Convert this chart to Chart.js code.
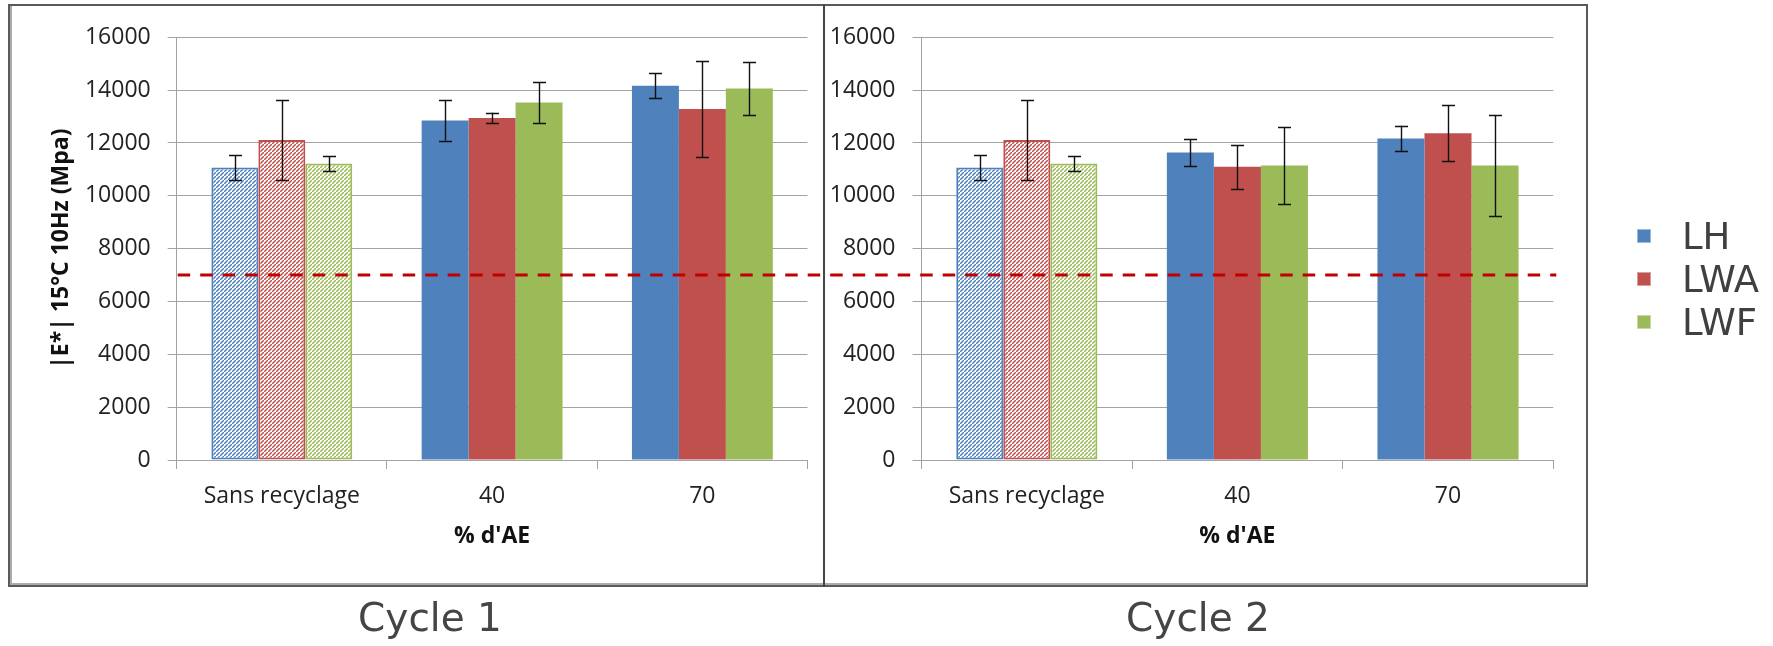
<!DOCTYPE html>
<html>
<head>
<meta charset="utf-8">
<script src="https://cdn.jsdelivr.net/npm/chart.js@4.4.1/dist/chart.umd.min.js"></script>
<style>
  html, body { margin: 0; padding: 0; background: #fff; }
  body { width: 1773px; height: 646px; position: relative; overflow: hidden; }
  canvas { position: absolute; left: 0; top: 0; }
  .frame { position: absolute; left: 8px; top: 4px; width: 1576px; height: 579px;
           border: 2px solid #5a5a5a; box-shadow: inset 2px -2px 0 #ababab; }
  .divider { position: absolute; left: 823px; top: 4px; width: 2px; height: 583px; background: #454545; }
  .cycle { position: absolute; top: 598px; font-family: 'DejaVu Sans'; font-size: 39px; line-height: 39px;
           color: #454545; transform: translateX(-50%); white-space: nowrap; }
  .legend-item { position: absolute; left: 1637px; height: 37px; }
  .legend-item .sw { position: absolute; left: 0; width: 14px; height: 14px; top: 11px; box-sizing: border-box; }
  .legend-item .tx { position: absolute; left: 45px; top: 0; font-family: 'DejaVu Sans'; font-size: 37px;
                     line-height: 37px; color: #404040; white-space: nowrap; }
</style>
</head>
<body>
<div class="frame"></div>
<div class="divider"></div>
<canvas id="cycle1" width="1773" height="646"></canvas>
<canvas id="cycle2" width="1773" height="646"></canvas>
<div class="cycle" style="left:430px">Cycle 1</div>
<div class="cycle" style="left:1198px">Cycle 2</div>
<div id="legend"></div>
<script>
// ---- data ----
const categories = ['Sans recyclage', '40', '70'];
const seriesNames = ['LH', 'LWA', 'LWF'];
const seriesColors = ['#4F81BD', '#C0504D', '#9BBB59'];

// Cycle 1 : |E*| (MPa) and standard deviation
const cycle1LH = [11070, 12850, 14170];
const cycle1LWA = [12110, 12950, 13290];
const cycle1LWF = [11220, 13530, 14060];
const cycle1LHErr = [480, 760, 480];
const cycle1LWAErr = [1500, 200, 1820];
const cycle1LWFErr = [270, 780, 990];

// Cycle 2
const cycle2LH = [11070, 11640, 12170];
const cycle2LWA = [12110, 11100, 12370];
const cycle2LWF = [11220, 11150, 11150];
const cycle2LHErr = [480, 510, 490];
const cycle2LWAErr = [1500, 830, 1070];
const cycle2LWFErr = [270, 1460, 1900];

const yMin = 0;
const yMax = 16000;
const yStep = 2000;
const threshold = 7000;

const yTitle = '|E*| 15°C 10Hz (Mpa)';
const xTitle = "% d'AE";

// ---- helpers ----
Chart.defaults.font.family = "'Open Sans', 'Noto Sans', sans-serif";
Chart.defaults.color = '#222222';

function hatchPattern(ctx, color) {
  const s = 4;
  const tile = document.createElement('canvas');
  tile.width = s; tile.height = s;
  const g = tile.getContext('2d');
  g.fillStyle = '#ffffff';
  g.fillRect(0, 0, s, s);
  g.strokeStyle = color;
  g.lineWidth = 1.5;
  g.beginPath();
  g.moveTo(-1, s + 1); g.lineTo(s + 1, -1);
  g.moveTo(-1 - s, s + 1 - s); g.lineTo(s + 1 - s, -1 - s);
  g.moveTo(-1 + s, s + 1 + s); g.lineTo(s + 1 + s, -1 + s);
  g.stroke();
  return ctx.createPattern(tile, 'repeat');
}

// error bars drawn on top of each bar
const errorBars = {
  id: 'errorBars',
  afterDatasetsDraw(chart) {
    const ctx = chart.ctx;
    const y = chart.scales.y;
    ctx.save();
    ctx.strokeStyle = '#111';
    ctx.lineWidth = 1.4;
    chart.data.datasets.forEach((ds, di) => {
      const meta = chart.getDatasetMeta(di);
      meta.data.forEach((bar, i) => {
        const v = ds.data[i], e = ds.errors[i];
        const top = y.getPixelForValue(v + e);
        const bot = y.getPixelForValue(v - e);
        const x = Math.round(bar.x) + 0.5;
        ctx.beginPath();
        ctx.moveTo(x, top); ctx.lineTo(x, bot);
        ctx.moveTo(x - 6.5, Math.round(top) + 0.5); ctx.lineTo(x + 6.5, Math.round(top) + 0.5);
        ctx.moveTo(x - 6.5, Math.round(bot) + 0.5); ctx.lineTo(x + 6.5, Math.round(bot) + 0.5);
        ctx.stroke();
      });
    });
    ctx.restore();
  }
};

function buildDatasets(canvas, values, errors) {
  const ctx = canvas.getContext('2d');
  return seriesNames.map((name, k) => {
    const pat = hatchPattern(ctx, seriesColors[k]);
    return {
      label: name,
      data: values[k],
      errors: errors[k],
      backgroundColor: c => (c.dataIndex === 0 ? pat : seriesColors[k]),
      borderColor: seriesColors[k],
      borderWidth: c => (c.dataIndex === 0 ? 2 : 0),
      borderSkipped: false,
      categoryPercentage: 0.67,
      barPercentage: 1.0
    };
  });
}

function buildOptions(pad, withYTitle, yWidth) {
  return {
    responsive: false,
    animation: false,
    devicePixelRatio: 1,
    layout: { padding: pad },
    plugins: { legend: { display: false }, tooltip: { enabled: false } },
    scales: {
      x: {
        type: 'category',
        offset: true,
        grid: { offset: true, drawOnChartArea: false, drawTicks: true, tickLength: 9, color: '#a3a3a3', lineWidth: 1 },
        border: { color: '#a3a3a3', width: 1 },
        ticks: { padding: 14, font: { size: 23 }, maxRotation: 0, autoSkip: false },
        title: { display: true, text: xTitle, color: '#111', font: { size: 23, weight: 'bold' }, padding: { top: 0, bottom: 10 } },
        afterFit: s => { s.height = 100; }
      },
      y: {
        min: yMin,
        max: yMax,
        grid: { color: '#a3a3a3', lineWidth: 1, tickLength: 9 },
        border: { color: '#a3a3a3', width: 1 },
        ticks: { stepSize: yStep, padding: 17, font: { size: 23 }, callback: v => String(v) },
        title: { display: withYTitle, text: yTitle, color: '#111', font: { size: 23, weight: 'bold' }, padding: { top: 21, bottom: 0 } },
        afterFit: s => { s.width = yWidth; }
      }
    }
  };
}

// ---- Cycle 1 ----
const c1 = document.getElementById('cycle1');
const chart1 = new Chart(c1, {
  type: 'bar',
  data: {
    labels: categories,
    datasets: buildDatasets(c1, [cycle1LH, cycle1LWA, cycle1LWF], [cycle1LHErr, cycle1LWAErr, cycle1LWFErr])
  },
  options: buildOptions({ left: 26.7, right: 965.5, top: 37.3, bottom: 86 }, true, 150),
  plugins: [errorBars]
});

// dashed reference line, running through both panels
const thresholdLine = {
  id: 'thresholdLine',
  afterDatasetsDraw(chart) {
    const ctx = chart.ctx;
    const yPix = chart.scales.y.getPixelForValue(threshold);
    ctx.save();
    ctx.strokeStyle = '#C00000';
    ctx.lineWidth = 3;
    ctx.setLineDash([12.5, 10]);
    ctx.beginPath();
    ctx.moveTo(chart1.chartArea.left + 1, yPix);
    ctx.lineTo(chart.chartArea.right + 3, yPix);
    ctx.stroke();
    ctx.restore();
  }
};

// ---- Cycle 2 ----
const c2 = document.getElementById('cycle2');
const chart2 = new Chart(c2, {
  type: 'bar',
  data: {
    labels: categories,
    datasets: buildDatasets(c2, [cycle2LH, cycle2LWA, cycle2LWF], [cycle2LHErr, cycle2LWAErr, cycle2LWFErr])
  },
  options: buildOptions({ left: 821.5, right: 219.7, top: 37.3, bottom: 86 }, false, 100),
  plugins: [errorBars, thresholdLine]
});

// ---- legend ----
const legend = document.getElementById('legend');
seriesNames.forEach((name, k) => {
  const item = document.createElement('div');
  item.className = 'legend-item';
  item.style.top = (217.5 + 43 * k) + 'px';
  const sw = document.createElement('div');
  sw.className = 'sw';
  sw.style.background = seriesColors[k];
  sw.style.border = '1px solid rgba(255,255,255,0.45)';
  const tx = document.createElement('div');
  tx.className = 'tx';
  tx.textContent = name;
  item.appendChild(sw);
  item.appendChild(tx);
  legend.appendChild(item);
});
</script>
</body>
</html>
